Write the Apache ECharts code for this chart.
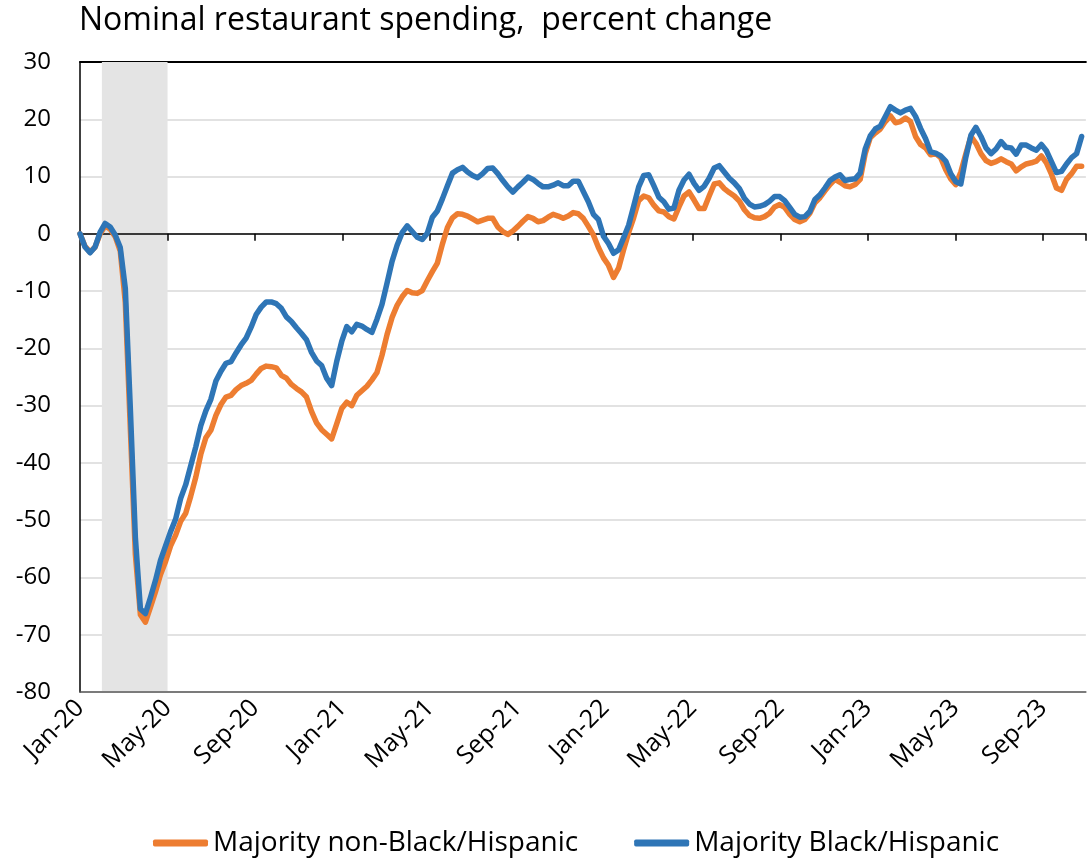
<!DOCTYPE html>
<html>
<head>
<meta charset="utf-8">
<title>Nominal restaurant spending</title>
<script src="https://cdn.jsdelivr.net/npm/echarts@6/dist/echarts.min.js"></script>
<style>
  html, body { margin: 0; padding: 0; background: #ffffff; }
  #chart { width: 1088px; height: 862px; }
</style>
</head>
<body>
<div id="chart"></div>
<script>
// Weekly series, first week starting 1 Jan 2020
const firstWeek = '2020-01-01';

const tickLabels = ['Jan-20', 'May-20', 'Sep-20', 'Jan-21', 'May-21', 'Sep-21',
  'Jan-22', 'May-22', 'Sep-22', 'Jan-23', 'May-23', 'Sep-23'];

const seriesNames = ['Majority non-Black/Hispanic', 'Majority Black/Hispanic'];

// Recession shading, Feb 2020 through Apr 2020 (months after Jan 2020)
const recession = [1, 4];

// Percent change, neighbourhoods that are majority non-Black/Hispanic
const nonBlackHispanic = [
  0, -2.2, -3.2, -2.3, 0.0, 1.4, 0.8, -0.5, -3.0, -12,
  -34, -56, -66.5, -67.8, -65.2, -62.5, -59.5, -57.2, -54.5, -52.6,
  -50.2, -48.8, -45.8, -42.5, -38.5, -35.6, -34.3, -31.7, -29.8, -28.5,
  -28.2, -27.2, -26.5, -26.1, -25.6, -24.5, -23.5, -23.1, -23.2, -23.4,
  -24.7, -25.2, -26.3, -27.0, -27.6, -28.5, -31.0, -33.0, -34.2, -35.0,
  -35.8, -33.2, -30.5, -29.4, -30.0, -28.2, -27.4, -26.6, -25.5, -24.2,
  -21.2, -17.6, -14.6, -12.5, -11.0, -9.9, -10.3, -10.4, -9.9, -8.2,
  -6.6, -5.1, -1.8, 1.1, 2.8, 3.5, 3.4, 3.1, 2.6, 2.1,
  2.4, 2.7, 2.7, 1.2, 0.4, -0.1, 0.5, 1.3, 2.2, 3.0,
  2.7, 2.1, 2.3, 2.9, 3.4, 3.1, 2.7, 3.1, 3.7, 3.5,
  2.7, 1.3, -0.2, -2.4, -4.2, -5.5, -7.6, -6.0, -2.8, 0.2,
  2.8, 5.8, 6.6, 6.3, 5.0, 4.0, 3.8, 3.0, 2.6, 4.7,
  6.6, 7.3, 5.9, 4.4, 4.4, 6.6, 8.7, 8.9, 7.9, 7.2,
  6.6, 5.7, 4.2, 3.2, 2.8, 2.7, 3.0, 3.6, 4.7, 5.1,
  4.6, 3.4, 2.5, 2.1, 2.5, 3.6, 5.4, 6.3, 7.5, 8.6,
  9.5, 9.0, 8.4, 8.2, 8.6, 9.5, 14.0, 16.8, 17.6, 18.3,
  19.6, 20.6, 19.4, 19.6, 20.2, 19.6, 17.0, 15.6, 15.0, 13.8,
  14.0, 13.3, 11.2, 9.6, 8.6, 10.8, 14.0, 17.0, 15.8, 14.0,
  12.8, 12.3, 12.6, 13.1, 12.6, 12.2, 11.0, 11.7, 12.2, 12.4,
  12.7, 13.6, 12.4, 10.4, 8.0, 7.6, 9.5, 10.5, 11.8, 11.8
];

// Percent change, neighbourhoods that are majority Black/Hispanic
const blackHispanic = [
  0, -2.3, -3.3, -2.3, 0.3, 1.8, 1.2, -0.2, -2.4, -9.5,
  -30.5, -53, -65.5, -66.3, -63.5, -60.5, -57, -54.5, -52, -49.8,
  -46.2, -43.8, -40.5, -37.2, -33.5, -30.9, -28.9, -25.7, -24, -22.6,
  -22.3, -20.8, -19.4, -18.2, -16.3, -14.1, -12.8, -11.9, -11.9, -12.2,
  -13.0, -14.5, -15.3, -16.4, -17.4, -18.5, -20.7, -22.2, -23.0, -25.2,
  -26.5, -22.3, -18.8, -16.2, -17.1, -15.8, -16.1, -16.7, -17.2, -14.9,
  -12.3, -8.6, -4.8, -2.0, 0.2, 1.4, 0.4, -0.6, -1.0, 0.1,
  2.9, 4.0, 6.1, 8.4, 10.6, 11.2, 11.6, 10.8, 10.2, 9.8,
  10.5, 11.4, 11.5, 10.5, 9.3, 8.2, 7.3, 8.2, 9.0, 9.9,
  9.5, 8.8, 8.2, 8.2, 8.5, 8.9, 8.4, 8.4, 9.2, 9.2,
  7.4, 5.6, 3.4, 2.5, -0.4, -1.7, -3.4, -2.8, -0.7, 1.5,
  4.8, 8.2, 10.2, 10.3, 8.4, 6.4, 5.6, 4.3, 4.5, 7.6,
  9.4, 10.4, 8.8, 7.6, 8.3, 9.7, 11.5, 11.9, 10.8, 9.7,
  8.9, 7.9, 6.2, 5.2, 4.7, 4.8, 5.1, 5.7, 6.5, 6.5,
  5.8, 4.6, 3.4, 2.9, 3.0, 3.9, 6.0, 6.8, 8.0, 9.3,
  9.9, 10.3, 9.3, 9.5, 9.6, 10.6, 14.8, 17.1, 18.3, 18.8,
  20.5, 22.2, 21.6, 21.1, 21.6, 21.9, 20.5, 18.4, 16.6, 14.3,
  14.1, 13.6, 12.7, 10.5, 9.1, 8.7, 13.4, 17.2, 18.6, 17.0,
  15.0, 14.0, 14.8, 16.1, 15.1, 15.0, 13.9, 15.5, 15.5, 15.0,
  14.6, 15.6, 14.5, 12.6, 10.7, 10.9, 12.2, 13.3, 14.0, 17.0
];

const colors = ['#ED7D31', '#2E75B6'];
const FONT = '"Open Sans", "Noto Sans", sans-serif';

// Convert week index to months elapsed since 1 Jan 2020
const DAYS_PER_MONTH = 365.25 / 12;
const origin = Date.UTC(2020, 0, 1);
const start = new Date(firstWeek + 'T00:00:00Z').getTime();
function weekToMonths(i) {
  const days = (start - origin) / 86400000 + i * 7;
  return days / DAYS_PER_MONTH;
}
function toPairs(values) {
  return values.map((v, i) => [weekToMonths(i), v]);
}

const X_MAX = 45.96;

const chart = echarts.init(document.getElementById('chart'), null, { renderer: 'canvas' });

const baseX = {
  type: 'value',
  min: 0,
  max: X_MAX,
  interval: 4,
  splitLine: { show: false }
};

chart.setOption({
  animation: false,
  backgroundColor: '#ffffff',
  textStyle: { fontFamily: FONT },
  title: {
    text: 'Nominal restaurant spending,  percent change',
    left: 74,
    top: 0,
    textStyle: { fontFamily: FONT, fontSize: 32, fontWeight: 'normal', color: '#000000' }
  },
  legend: {
    data: seriesNames,
    left: 148,
    top: 824,
    itemGap: 56,
    itemWidth: 55,
    itemHeight: 7,
    icon: 'roundRect',
    textStyle: { fontFamily: FONT, fontSize: 28, color: '#000000' }
  },
  grid: { left: 80, right: 0, top: 62, bottom: 170, containLabel: false },
  xAxis: [
    // axis line along zero with its tick marks
    Object.assign({}, baseX, {
      z: 1.5,
      axisLine: { onZero: true, lineStyle: { color: '#000000', width: 1.5 } },
      axisTick: { show: true, length: 7, lineStyle: { color: '#000000', width: 1.5 } },
      axisLabel: { show: false }
    }),
    // bottom edge carrying the date labels
    Object.assign({}, baseX, {
      position: 'bottom',
      z: 1.5,
      axisLine: { onZero: false, lineStyle: { color: '#595959', width: 1.5 } },
      axisTick: { show: false },
      axisLabel: {
        rotate: 45,
        margin: 12,
        fontFamily: FONT,
        fontSize: 25,
        color: '#000000',
        formatter: function (v) {
          const k = Math.round(v / 4);
          return Math.abs(v - k * 4) < 1e-6 && tickLabels[k] ? tickLabels[k] : '';
        }
      }
    }),
    // top edge of the plot area
    Object.assign({}, baseX, {
      position: 'top',
      axisLine: { onZero: false, lineStyle: { color: '#000000', width: 2 } },
      axisTick: { show: false },
      axisLabel: { show: false }
    })
  ],
  yAxis: {
    type: 'value',
    min: -80,
    max: 30,
    interval: 10,
    axisLine: { show: true, onZero: false, lineStyle: { color: '#000000', width: 1.5 } },
    axisTick: { show: false },
    axisLabel: { fontFamily: FONT, fontSize: 24, color: '#000000', margin: 29 },
    splitLine: { show: true, lineStyle: { color: '#d9d9d9', width: 1.5 } }
  },
  series: [
    {
      type: 'line',
      xAxisIndex: 0,
      data: [],
      z: 1,
      silent: true,
      markArea: {
        silent: true,
        itemStyle: { color: '#e4e4e4' },
        data: [[{ xAxis: recession[0] }, { xAxis: recession[1] }]]
      }
    },
    {
      name: seriesNames[0],
      type: 'line',
      xAxisIndex: 0,
      z: 2,
      data: toPairs(nonBlackHispanic),
      showSymbol: false,
      symbol: 'none',
      color: colors[0],
      lineStyle: { width: 5.5, color: colors[0], join: 'round', cap: 'round' },
      itemStyle: { color: colors[0] }
    },
    {
      name: seriesNames[1],
      type: 'line',
      xAxisIndex: 0,
      z: 3,
      data: toPairs(blackHispanic),
      showSymbol: false,
      symbol: 'none',
      color: colors[1],
      lineStyle: { width: 5.5, color: colors[1], join: 'round', cap: 'round' },
      itemStyle: { color: colors[1] }
    }
  ]
});
</script>
</body>
</html>
